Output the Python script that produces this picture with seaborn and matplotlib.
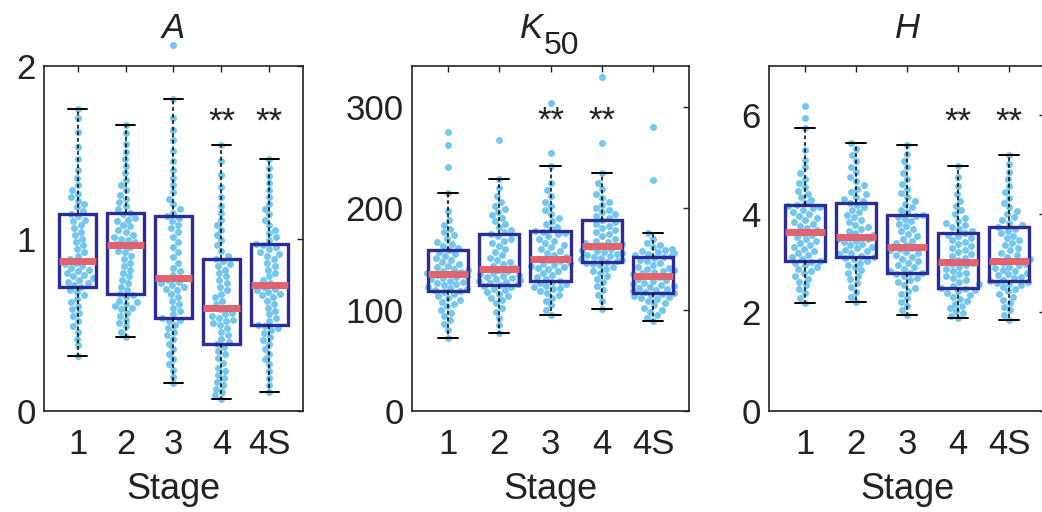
import numpy as np
import pandas as pd
import matplotlib
matplotlib.use("Agg")
import matplotlib.pyplot as plt
import seaborn as sns

# ---------------------------------------------------------------- data
stages = ["1", "2", "3", "4", "4S"]

# Amplitude A, per stage
A_s1 = [0.32, 0.38, 0.42, 0.46, 0.49, 0.52, 0.55, 0.57, 0.59, 0.61, 0.63, 0.65, 0.67, 0.69, 0.70,
        0.72,
        0.73, 0.74, 0.75, 0.76, 0.77, 0.78, 0.79, 0.80, 0.81, 0.82, 0.83, 0.84, 0.85, 0.86,
        0.87,
        0.88, 0.90, 0.92, 0.94, 0.96, 0.98, 1.00, 1.02, 1.04, 1.06, 1.08, 1.10, 1.11, 1.13,
        1.14,
        1.16, 1.18, 1.20, 1.22, 1.24, 1.26, 1.28, 1.31, 1.35, 1.40, 1.46, 1.53, 1.62, 1.70, 1.75]
A_s2 = [0.43, 0.46, 0.49, 0.51, 0.53, 0.55, 0.57, 0.59, 0.60, 0.61, 0.62, 0.63, 0.64, 0.66, 0.67,
        0.68,
        0.70, 0.72, 0.74, 0.76, 0.78, 0.80, 0.82, 0.84, 0.86, 0.88, 0.90, 0.92, 0.93, 0.95,
        0.96,
        0.97, 0.98, 0.99, 1.00, 1.01, 1.02, 1.04, 1.05, 1.07, 1.08, 1.10, 1.11, 1.12, 1.14,
        1.15,
        1.17, 1.19, 1.21, 1.23, 1.25, 1.28, 1.31, 1.34, 1.38, 1.42, 1.46, 1.50, 1.55, 1.61, 1.66]
A_s3 = [0.16, 0.20, 0.24, 0.27, 0.30, 0.33, 0.36, 0.39, 0.42, 0.44, 0.46, 0.48, 0.50, 0.52, 0.53,
        0.54,
        0.56, 0.58, 0.60, 0.62, 0.64, 0.66, 0.68, 0.70, 0.71, 0.72, 0.73, 0.74, 0.75, 0.76,
        0.77,
        0.79, 0.81, 0.83, 0.86, 0.89, 0.92, 0.95, 0.98, 1.01, 1.04, 1.06, 1.08, 1.10, 1.12,
        1.13,
        1.15, 1.17, 1.20, 1.23, 1.27, 1.31, 1.35, 1.40, 1.45, 1.51, 1.57, 1.63, 1.70, 1.81, 2.12]
A_s4 = [0.07, 0.09, 0.11, 0.13, 0.15, 0.17, 0.19, 0.21, 0.23, 0.25, 0.28, 0.31, 0.33, 0.35, 0.37,
        0.39,
        0.40, 0.42, 0.44, 0.46, 0.48, 0.50, 0.51, 0.52, 0.53, 0.54, 0.55, 0.56, 0.57, 0.59,
        0.60,
        0.62, 0.64, 0.66, 0.68, 0.70, 0.72, 0.74, 0.76, 0.78, 0.80, 0.82, 0.84, 0.85, 0.87,
        0.88,
        0.90, 0.93, 0.96, 0.99, 1.02, 1.05, 1.08, 1.11, 1.15, 1.19, 1.24, 1.30, 1.37, 1.45, 1.54]
A_s4S = [0.11, 0.15, 0.19, 0.23, 0.27, 0.30, 0.33, 0.36, 0.39, 0.41, 0.43, 0.45, 0.47, 0.48, 0.49,
         0.50,
         0.52, 0.54, 0.56, 0.58, 0.60, 0.62, 0.64, 0.66, 0.67, 0.68, 0.69, 0.70, 0.71, 0.72,
         0.73,
         0.74, 0.76, 0.78, 0.80, 0.82, 0.84, 0.86, 0.88, 0.90, 0.91, 0.92, 0.94, 0.95, 0.96,
         0.97,
         0.99, 1.01, 1.03, 1.05, 1.08, 1.11, 1.14, 1.17, 1.20, 1.24, 1.28, 1.32, 1.36, 1.41, 1.46]

# Half-saturation constant K50, per stage
K_s1 = [72, 80, 86, 90, 94, 97, 100, 103, 105, 107, 109, 111, 113, 115, 117,
        118,
        119, 120, 121, 122, 124, 125, 126, 127, 128, 130, 131, 132, 133, 134,
        135,
        136, 137, 138, 139, 140, 142, 143, 145, 147, 149, 151, 153, 155, 157,
        159,
        161, 163, 165, 167, 170, 173, 176, 179, 183, 188, 197, 215, 240, 262, 275]
K_s2 = [77, 85, 92, 98, 102, 106, 109, 111, 113, 115, 117, 119, 120, 122, 123,
        124,
        125, 126, 127, 128, 129, 130, 131, 132, 133, 134, 135, 136, 138, 139,
        140,
        141, 143, 145, 147, 149, 151, 154, 157, 160, 163, 166, 168, 170, 172,
        174,
        176, 178, 181, 184, 187, 190, 193, 196, 199, 202, 206, 212, 220, 229, 267]
K_s3 = [95, 100, 104, 108, 111, 114, 116, 118, 120, 121, 122, 123, 125, 126, 127,
        128,
        130, 132, 134, 136, 138, 140, 141, 142, 143, 144, 145, 146, 148, 149,
        150,
        152, 154, 156, 158, 160, 162, 164, 166, 168, 170, 172, 174, 175, 176,
        177,
        179, 181, 184, 187, 190, 194, 198, 202, 206, 212, 218, 225, 241, 254, 304]
K_s4 = [101, 108, 114, 119, 123, 127, 130, 133, 136, 138, 140, 142, 144, 145, 146,
        147,
        148, 149, 150, 151, 152, 153, 154, 155, 156, 157, 158, 159, 160, 162,
        163,
        164, 165, 166, 167, 168, 170, 172, 174, 176, 178, 180, 182, 184, 186,
        188,
        190, 192, 194, 196, 198, 200, 203, 206, 210, 214, 219, 225, 235, 264, 329]
K_s4S = [89, 92, 95, 98, 100, 102, 104, 106, 108, 110, 111, 112, 113, 114, 115,
         116,
         117, 118, 119, 120, 121, 122, 123, 124, 125, 126, 128, 129, 130, 132,
         133,
         134, 135, 136, 137, 138, 139, 140, 141, 142, 144, 146, 148, 149, 151,
         152,
         153, 154, 155, 156, 157, 158, 159, 160, 162, 164, 166, 170, 175, 228, 280]

# Hill coefficient H, per stage
H_s1 = [2.19, 2.30, 2.40, 2.48, 2.55, 2.62, 2.68, 2.74, 2.79, 2.84, 2.88, 2.92, 2.96, 3.00, 3.03,
        3.05,
        3.09, 3.13, 3.17, 3.21, 3.25, 3.29, 3.33, 3.37, 3.41, 3.45, 3.49, 3.53, 3.57, 3.61,
        3.64,
        3.68, 3.72, 3.76, 3.80, 3.84, 3.88, 3.92, 3.96, 4.00, 4.04, 4.08, 4.11, 4.13, 4.15,
        4.17,
        4.22, 4.28, 4.34, 4.40, 4.47, 4.54, 4.62, 4.71, 4.82, 4.95, 5.10, 5.30, 5.75, 5.95, 6.18]
H_s2 = [2.22, 2.32, 2.42, 2.52, 2.60, 2.67, 2.74, 2.80, 2.86, 2.92, 2.97, 3.01, 3.05, 3.08, 3.10,
        3.12,
        3.15, 3.18, 3.21, 3.24, 3.27, 3.30, 3.33, 3.36, 3.39, 3.42, 3.45, 3.48, 3.50, 3.52,
        3.54,
        3.58, 3.62, 3.66, 3.70, 3.74, 3.78, 3.83, 3.88, 3.93, 3.98, 4.03, 4.08, 4.13, 4.18,
        4.23,
        4.27, 4.31, 4.35, 4.40, 4.45, 4.51, 4.58, 4.66, 4.75, 4.85, 4.96, 5.08, 5.20, 5.32, 5.43]
H_s3 = [1.95, 2.05, 2.14, 2.22, 2.30, 2.37, 2.44, 2.50, 2.56, 2.61, 2.66, 2.70, 2.74, 2.77, 2.79,
        2.81,
        2.85, 2.89, 2.93, 2.97, 3.01, 3.05, 3.09, 3.13, 3.17, 3.20, 3.23, 3.26, 3.29, 3.31,
        3.33,
        3.37, 3.41, 3.45, 3.50, 3.55, 3.60, 3.65, 3.70, 3.75, 3.80, 3.85, 3.90, 3.94, 3.96,
        3.98,
        4.03, 4.08, 4.14, 4.20, 4.27, 4.34, 4.42, 4.50, 4.60, 4.70, 4.82, 4.95, 5.08, 5.22, 5.39]
H_s4 = [1.88, 1.93, 1.98, 2.03, 2.08, 2.13, 2.18, 2.23, 2.28, 2.32, 2.36, 2.40, 2.43, 2.46, 2.48,
        2.49,
        2.53, 2.57, 2.61, 2.65, 2.69, 2.73, 2.77, 2.81, 2.85, 2.89, 2.93, 2.96, 2.99, 3.01,
        3.03,
        3.07, 3.11, 3.15, 3.19, 3.23, 3.27, 3.31, 3.35, 3.39, 3.43, 3.47, 3.51, 3.55, 3.58,
        3.61,
        3.65, 3.69, 3.73, 3.77, 3.81, 3.86, 3.92, 3.99, 4.07, 4.16, 4.27, 4.40, 4.56, 4.75, 4.98]
H_s4S = [1.85, 1.95, 2.04, 2.12, 2.19, 2.26, 2.32, 2.38, 2.43, 2.48, 2.52, 2.55, 2.58, 2.60, 2.62,
         2.63,
         2.66, 2.69, 2.72, 2.75, 2.78, 2.81, 2.84, 2.87, 2.90, 2.93, 2.96, 2.99, 3.01, 3.03,
         3.05,
         3.09, 3.13, 3.17, 3.21, 3.26, 3.31, 3.36, 3.41, 3.46, 3.51, 3.56, 3.61, 3.66, 3.70,
         3.73,
         3.77, 3.82, 3.87, 3.93, 3.99, 4.06, 4.14, 4.23, 4.33, 4.44, 4.56, 4.70, 4.85, 5.02, 5.20]

# panel titles: (main symbol, subscript)
titles = [("A", ""), ("K", "50"), ("H", "")]
y_limits = [(0, 2), (0, 340), (0, 7)]
y_ticks = [[0, 1, 2], [0, 100, 200, 300], [0, 2, 4, 6]]
# stages marked as significantly different, with the height of the marker
signif_stages = [["4", "4S"], ["3", "4"], ["4", "4S"]]
signif_y = [1.62, 276, 5.66]

panels = [
    [A_s1, A_s2, A_s3, A_s4, A_s4S],
    [K_s1, K_s2, K_s3, K_s4, K_s4S],
    [H_s1, H_s2, H_s3, H_s4, H_s4S],
]

# ---------------------------------------------------------------- style
sns.set_style("white")
plt.rcParams["font.family"] = ["Liberation Sans", "DejaVu Sans"]

DOT = "#72c6ef"
NAVY = "#2b2c98"
RED = "#e0636f"
INK = "#222222"
FS = 25

W, H = 1042, 512
fig = plt.figure(figsize=(W / 100, H / 100), dpi=100)
fig.patch.set_facecolor("white")

# axes rectangles in pixels: left, right (top/bottom shared)
ax_px = [(44, 303), (412, 689), (769, 1045)]
top_px, bot_px = 66, 411

for i, (l, r) in enumerate(ax_px):
    ax = fig.add_axes([l / W, (H - bot_px) / H, (r - l) / W, (bot_px - top_px) / H])
    groups = panels[i]
    df = pd.DataFrame({
        "stage": np.repeat(stages, [len(g) for g in groups]),
        "value": np.concatenate([np.asarray(g, float) for g in groups]),
    })

    sns.swarmplot(data=df, x="stage", y="value", order=stages, color=DOT,
                  size=5.0, linewidth=0, ax=ax, zorder=1, clip_on=False)
    sns.boxplot(data=df, x="stage", y="value", order=stages, width=0.78,
                showfliers=False, fill=True, color="white", linecolor=NAVY,
                boxprops=dict(facecolor="none", edgecolor=NAVY, linewidth=2.4, zorder=3),
                whiskerprops=dict(color="black", linestyle=(0, (2.5, 1.8)), linewidth=1.1, zorder=3),
                capprops=dict(color="black", linewidth=1.4, zorder=3),
                medianprops=dict(color=RED, linewidth=5, zorder=4, solid_capstyle="butt"),
                ax=ax)

    ax.set_xlim(-0.7, 4.7)
    ax.set_ylim(*y_limits[i])
    ax.set_yticks(y_ticks[i])
    ax.set_xticks(range(len(stages)))
    ax.set_xticklabels(stages)
    ax.set_xlabel("Stage", fontsize=FS + 1, color=INK, labelpad=8)
    ax.set_ylabel("")
    ax.tick_params(axis="both", which="both", direction="in", length=4, width=1,
                   color=INK, labelsize=FS, labelcolor=INK,
                   top=True, right=True)
    ax.tick_params(axis="x", pad=12)
    ax.tick_params(axis="y", pad=6)
    for sp in ax.spines.values():
        sp.set_visible(True)
        sp.set_color(INK)
        sp.set_linewidth(1.2)

    main, sub = titles[i]
    if sub:
        ax.text(0.473, 1.081, main, transform=ax.transAxes, ha="right",
                va="baseline", fontsize=25, fontstyle="italic", color=INK)
        ax.text(0.477, 1.035, sub, transform=ax.transAxes, ha="left",
                va="baseline", fontsize=23, color=INK)
    else:
        ax.text(0.5, 1.081, main, transform=ax.transAxes, ha="center",
                va="baseline", fontsize=25, fontstyle="italic", color=INK)

    for st in signif_stages[i]:
        ax.text(stages.index(st), signif_y[i], "**", ha="center", va="baseline",
                fontsize=FS, color=INK)

fig.savefig("out.png", dpi=100, facecolor="white")
